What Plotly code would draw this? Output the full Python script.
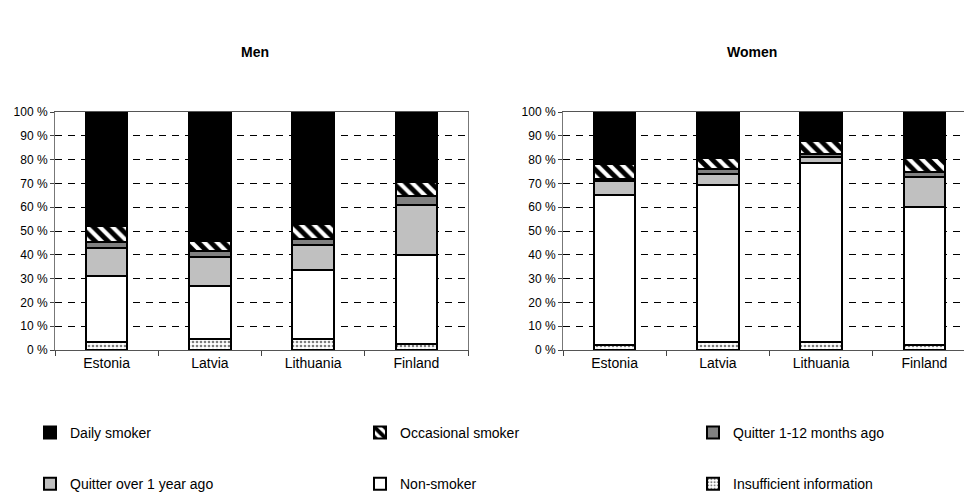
import plotly.graph_objects as go

countries = ["Estonia", "Latvia", "Lithuania", "Finland"]

# Men (% shares, stacked bottom to top)
men_insufficient = [3.5, 4.5, 4.5, 2.5]
men_nonsmoker = [27.5, 22.5, 29.0, 37.5]
men_quit_over1y = [12.0, 12.0, 10.5, 21.0]
men_quit_1_12m = [2.5, 2.5, 2.5, 3.5]
men_occasional = [6.5, 4.5, 6.5, 6.0]
men_daily = [48.0, 54.0, 47.0, 29.5]

# Women
women_insufficient = [2.0, 3.5, 3.5, 2.0]
women_nonsmoker = [63.0, 66.0, 75.0, 58.0]
women_quit_over1y = [6.0, 4.5, 2.5, 12.5]
women_quit_1_12m = [1.0, 2.0, 1.5, 2.5]
women_occasional = [6.0, 4.5, 5.5, 5.5]
women_daily = [22.0, 19.5, 12.0, 19.5]

series_names = ["Insufficient information", "Non-smoker", "Quitter over 1 year ago",
                "Quitter 1-12 months ago", "Occasional smoker", "Daily smoker"]
men_data = [men_insufficient, men_nonsmoker, men_quit_over1y, men_quit_1_12m, men_occasional, men_daily]
women_data = [women_insufficient, women_nonsmoker, women_quit_over1y, women_quit_1_12m, women_occasional, women_daily]

styles = {
    "Insufficient information": dict(color="white", pattern=dict(shape=".", fgcolor="black", bgcolor="white", size=4, solidity=0.35), legend="legend3", rank=2),
    "Non-smoker": dict(color="white", pattern=None, legend="legend2", rank=2),
    "Quitter over 1 year ago": dict(color="#c0c0c0", pattern=None, legend="legend", rank=2),
    "Quitter 1-12 months ago": dict(color="#808080", pattern=None, legend="legend3", rank=1),
    "Occasional smoker": dict(color="white", pattern=dict(shape="\\", fgcolor="black", bgcolor="white", fgopacity=1, size=9, solidity=0.55), legend="legend2", rank=1),
    "Daily smoker": dict(color="black", pattern=None, legend="legend", rank=1),
}

fig = go.Figure()
for panel, (data, xa, ya) in enumerate([(men_data, "x", "y"), (women_data, "x2", "y2")]):
    for name, vals in zip(series_names, data):
        st = styles[name]
        marker = dict(color=st["color"], line=dict(color="black", width=2))
        if st["pattern"]:
            marker["pattern"] = st["pattern"]
        fig.add_trace(go.Bar(
            x=countries, y=vals, name=name, xaxis=xa, yaxis=ya,
            marker=marker, width=0.4,
            showlegend=(panel == 0), legend=st["legend"],
            legendgroup=name, legendrank=st["rank"],
        ))

L, R, T, B = 55, 0, 112, 142
W = 964 - L - R
H = 492 - T - B

def px_x(p):
    return (p - L) / W

def px_y(p):
    return (492 - B - p) / H

axis_common = dict(type="category", showline=True, linecolor="#555555", linewidth=1,
                   ticks="outside", tickson="boundaries", ticklen=5, tickcolor="#444444",
                   tickfont=dict(size=14, color="black"), mirror=True, showgrid=False,
                   automargin=False)
yaxis_common = dict(range=[0, 100], dtick=10, ticksuffix=" %", showgrid=True,
                    gridcolor="black", gridwidth=1, griddash="7px,6px",
                    showline=True, linecolor="#777777", linewidth=1,
                    ticks="outside", ticklen=4, tickcolor="#444444",
                    tickfont=dict(size=12, color="black"), zeroline=False,
                    automargin=False)

legend_common = dict(orientation="v", yanchor="top", y=px_y(417), xanchor="left",
                     traceorder="grouped", tracegroupgap=30, bgcolor="rgba(0,0,0,0)",
                     font=dict(size=14, color="black", family="Liberation Sans, Arial, sans-serif"))

# women panel: same category spacing as men, cut off at the right edge
spacing = (468 - L) / 4.0
women_left = 563
women_range = [-0.5, -0.5 + (964 - women_left) / spacing]

fig.update_layout(
    width=964, height=492,
    margin=dict(l=L, r=R, t=T, b=B, autoexpand=False),
    paper_bgcolor="white", plot_bgcolor="white",
    barmode="stack",
    font=dict(family="Liberation Sans, Arial, sans-serif", color="black"),
    xaxis=dict(domain=[0, px_x(468)], anchor="y", range=[-0.5, 3.5], **axis_common),
    xaxis2=dict(domain=[px_x(women_left), 1], anchor="y2", range=women_range, **axis_common),
    yaxis=dict(anchor="x", mirror=True, **yaxis_common),
    yaxis2=dict(anchor="x2", mirror=False, **yaxis_common),
    legend=dict(x=px_x(30), **legend_common),
    legend2=dict(x=px_x(360), **legend_common),
    legend3=dict(x=px_x(693), **legend_common),
    annotations=[
        dict(text="<b>Men</b>", x=px_x(255), y=px_y(52), xref="paper", yref="paper",
             xanchor="center", yanchor="middle", showarrow=False, font=dict(size=14)),
        dict(text="<b>Women</b>", x=px_x(752), y=px_y(52), xref="paper", yref="paper",
             xanchor="center", yanchor="middle", showarrow=False, font=dict(size=14)),
    ],
)

fig.write_html("out.html", config={"displayModeBar": False},
               post_script="document.body.style.margin='0px';document.body.style.overflow='hidden';")
